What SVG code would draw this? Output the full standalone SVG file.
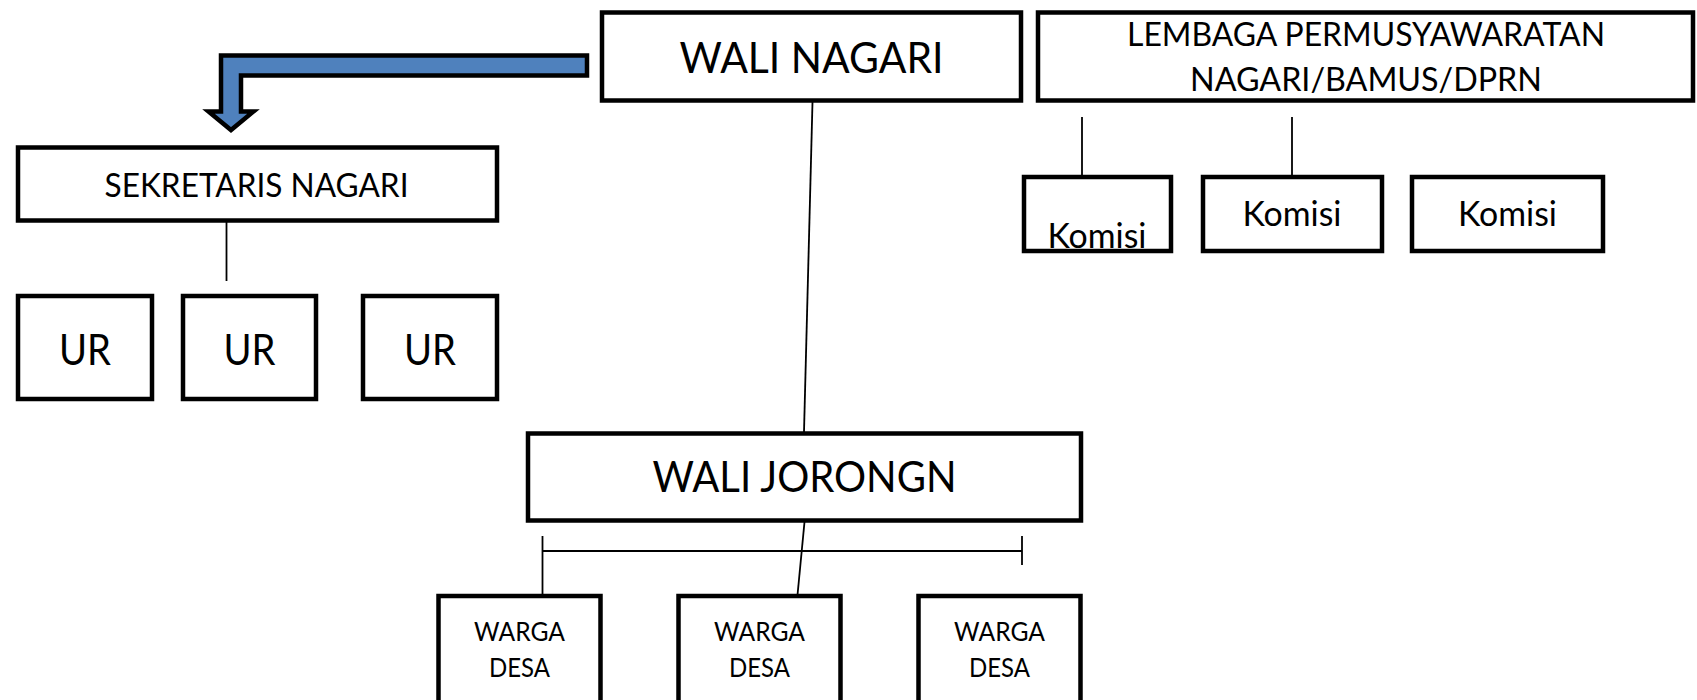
<svg xmlns="http://www.w3.org/2000/svg" width="1697" height="700" viewBox="0 0 1697 700">
<style>
.box{fill:#fff;stroke:#000;stroke-width:4.5}
.ln{stroke:#000;stroke-width:1.8;fill:none}
text{font-family:Lato,"Open Sans","Liberation Sans",sans-serif;fill:#000;text-anchor:middle}
</style>
<rect width="1697" height="700" fill="#fff"/>
<g id="connectors">
<path d="M587,55.5 L221,55.5 L221,111.5 L208.5,111.5 L231,130 L253.5,111.5 L241,111.5 L241,75.5 L587,75.5 Z" fill="#4F81BD" stroke="#000" stroke-width="4.5" stroke-linejoin="miter"/>
<line class="ln" x1="226.5" y1="222" x2="226.5" y2="281"/>
<line class="ln" x1="812.5" y1="102" x2="804" y2="432"/>
<line class="ln" x1="804.5" y1="522" x2="797.5" y2="595"/>
<line class="ln" x1="542.5" y1="551" x2="1022" y2="551"/>
<line class="ln" x1="542.5" y1="536" x2="542.5" y2="611"/>
<line class="ln" x1="1022" y1="536" x2="1022" y2="565"/>
<line class="ln" x1="1082" y1="117" x2="1082" y2="176"/>
<line class="ln" x1="1292" y1="117" x2="1292" y2="176"/>
</g>
<g id="wali-nagari"><rect class="box" x="602" y="12.5" width="419" height="88"/><text x="811.5" y="73" font-size="42.5" textLength="264" lengthAdjust="spacingAndGlyphs">WALI NAGARI</text></g>
<g id="lembaga"><rect class="box" x="1038" y="12.5" width="655" height="88"/><text x="1366" y="46" font-size="33" textLength="478" lengthAdjust="spacingAndGlyphs">LEMBAGA PERMUSYAWARATAN</text><text x="1366" y="91" font-size="33" textLength="352" lengthAdjust="spacingAndGlyphs">NAGARI/BAMUS/DPRN</text></g>
<g id="sekretaris"><rect class="box" x="18" y="147.5" width="479" height="73"/><text x="256.5" y="197" font-size="33.5" textLength="304" lengthAdjust="spacingAndGlyphs">SEKRETARIS NAGARI</text></g>
<g id="ur1"><rect class="box" x="18" y="296" width="134" height="103"/><text x="85" y="365" font-size="42" textLength="52" lengthAdjust="spacingAndGlyphs">UR</text></g>
<g id="ur2"><rect class="box" x="183" y="296" width="133" height="103"/><text x="249.5" y="365" font-size="42" textLength="52" lengthAdjust="spacingAndGlyphs">UR</text></g>
<g id="ur3"><rect class="box" x="363" y="296" width="134" height="103"/><text x="430" y="365" font-size="42" textLength="52" lengthAdjust="spacingAndGlyphs">UR</text></g>
<g id="komisi1"><rect class="box" x="1024" y="177" width="147" height="74"/><text x="1097" y="248" font-size="34" textLength="99" lengthAdjust="spacingAndGlyphs">Komisi</text></g>
<g id="komisi2"><rect class="box" x="1203" y="177" width="179" height="74"/><text x="1292" y="226" font-size="34" textLength="99" lengthAdjust="spacingAndGlyphs">Komisi</text></g>
<g id="komisi3"><rect class="box" x="1412" y="177" width="191" height="74"/><text x="1507.5" y="226" font-size="34" textLength="99" lengthAdjust="spacingAndGlyphs">Komisi</text></g>
<g id="wali-jorong"><rect class="box" x="528" y="433.5" width="553" height="87"/><text x="804.5" y="492" font-size="42.5" textLength="304" lengthAdjust="spacingAndGlyphs">WALI JORONGN</text></g>
<g id="warga1"><rect class="box" x="438.5" y="596" width="162" height="110"/><text x="519.5" y="641" font-size="27.5" textLength="91" lengthAdjust="spacingAndGlyphs">WARGA</text><text x="519.5" y="677" font-size="27.5" textLength="61" lengthAdjust="spacingAndGlyphs">DESA</text></g>
<g id="warga2"><rect class="box" x="678.5" y="596" width="162" height="110"/><text x="759.5" y="641" font-size="27.5" textLength="91" lengthAdjust="spacingAndGlyphs">WARGA</text><text x="759.5" y="677" font-size="27.5" textLength="61" lengthAdjust="spacingAndGlyphs">DESA</text></g>
<g id="warga3"><rect class="box" x="918.5" y="596" width="162" height="110"/><text x="999.5" y="641" font-size="27.5" textLength="91" lengthAdjust="spacingAndGlyphs">WARGA</text><text x="999.5" y="677" font-size="27.5" textLength="61" lengthAdjust="spacingAndGlyphs">DESA</text></g>
</svg>
